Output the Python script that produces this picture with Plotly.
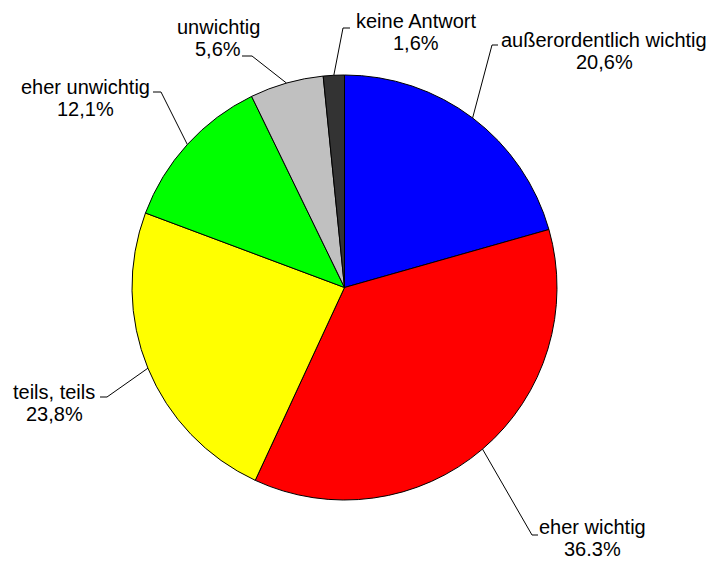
import math
import plotly.graph_objects as go

# Survey answers, clockwise from 12 o'clock
categories = ["außerordentlich wichtig", "eher wichtig", "teils, teils",
              "eher unwichtig", "unwichtig", "keine Antwort"]
shares = [20.6, 36.3, 23.8, 12.1, 5.6, 1.6]
share_labels = ["20,6%", "36.3%", "23,8%", "12,1%", "5,6%", "1,6%"]
colors = ["#0000FF", "#FF0000", "#FFFF00", "#00FF00", "#C0C0C0", "#333333"]

W, H = 713, 561
CX, CY, R = 344.5, 287.5, 212.5  # pie centre and radius in pixels

# Label layout: text centre (x, y of first line) and leader elbow / end points
label_layout = [
    dict(tx=604, ty=40, elbow=(492, 45), end=(498, 45)),
    dict(tx=592, ty=527, elbow=(532, 535), end=(538, 535)),
    dict(tx=54, ty=392, elbow=(107, 397), end=(100, 397)),
    dict(tx=85, ty=87, elbow=(161, 92), end=(153, 92)),
    dict(tx=218, ty=27, elbow=(252, 56), end=(242, 56)),
    dict(tx=416, ty=21, elbow=(343, 28), end=(350, 28)),
]
LINE_GAP = 22


def px(x):
    return x / W


def py(y):
    return 1 - y / H


fig = go.Figure(go.Pie(
    labels=categories,
    values=shares,
    sort=False,
    direction="clockwise",
    rotation=0,
    marker=dict(colors=colors, line=dict(color="black", width=1)),
    textinfo="none",
    hoverinfo="label+percent",
    showlegend=False,
    domain=dict(x=[px(CX - R), px(CX + R)], y=[py(CY + R), py(CY - R)]),
))

total = sum(shares)
shapes = []
annotations = []
cum = 0.0
for name, val, pct, lay in zip(categories, shares, share_labels, label_layout):
    mid = (cum + val / 2) / total * 2 * math.pi
    cum += val
    ex = CX + R * math.sin(mid)
    ey = CY - R * math.cos(mid)
    (bx, by), (hx, hy) = lay["elbow"], lay["end"]
    shapes.append(dict(
        type="path", xref="paper", yref="paper",
        path=f"M {px(ex)},{py(ey)} L {px(bx)},{py(by)} L {px(hx)},{py(hy)}",
        line=dict(color="black", width=1),
    ))
    for i, txt in enumerate([name, pct]):
        annotations.append(dict(
            x=px(lay["tx"]), y=py(lay["ty"] + i * LINE_GAP),
            xref="paper", yref="paper", text=txt, showarrow=False,
            xanchor="center", yanchor="middle",
            font=dict(family="Liberation Sans, Arial, sans-serif", size=20, color="black"),
        ))

fig.update_layout(
    width=W, height=H,
    margin=dict(l=0, r=0, t=0, b=0),
    paper_bgcolor="white",
    plot_bgcolor="white",
    shapes=shapes,
    annotations=annotations,
)

fig.write_html("out.html")
